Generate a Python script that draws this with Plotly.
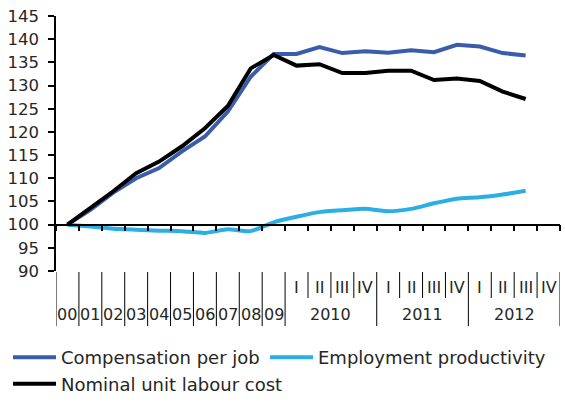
import plotly.graph_objects as go

categories = ["00", "01", "02", "03", "04", "05", "06", "07", "08", "09",
              "2010 I", "2010 II", "2010 III", "2010 IV",
              "2011 I", "2011 II", "2011 III", "2011 IV",
              "2012 I", "2012 II", "2012 III", "2012 IV"]
year_labels = ["00", "01", "02", "03", "04", "05", "06", "07", "08", "09"]
quarter_labels = ["I", "II", "III", "IV"] * 3
group_years = ["2010", "2011", "2012"]

compensation = [100, 103.2, 106.9, 110.0, 112.2, 115.8, 119.0, 124.4, 131.9, 136.8,
                136.8, 138.3, 137.0, 137.4, 137.1, 137.6, 137.2, 138.8, 138.4, 137.0, 136.5]
productivity = [100, 99.6, 99.1, 98.9, 98.7, 98.6, 98.2, 99.0, 98.6, 100.5,
                101.7, 102.7, 103.1, 103.4, 102.9, 103.4, 104.6, 105.6, 105.9, 106.5, 107.3]
nulc = [100, 103.6, 107.2, 111.1, 113.6, 116.9, 120.8, 125.6, 133.7, 136.6,
        134.3, 134.6, 132.7, 132.7, 133.2, 133.2, 131.2, 131.5, 131.0, 128.7, 127.1]

FONT = "DejaVu Sans"
TXT = "#262626"

fig = go.Figure()
fig.add_trace(go.Scatter(x=categories[:len(compensation)], y=compensation,
                         mode="lines", name="Compensation per job", legend="legend",
                         line=dict(color="#3B5CAA", width=4)))
fig.add_trace(go.Scatter(x=categories[:len(productivity)], y=productivity,
                         mode="lines", name="Employment productivity", legend="legend2",
                         line=dict(color="#2AAEE3", width=4, shape="spline", smoothing=0.5)))
fig.add_trace(go.Scatter(x=categories[:len(nulc)], y=nulc,
                         mode="lines", name="Nominal unit labour cost", legend="legend",
                         line=dict(color="#000000", width=4)))

n = len(categories)
shapes = []
annotations = []
full_bottom = -0.216
short_bottom = -0.106
top = -0.004
lab_font = dict(family=FONT, size=16, color=TXT)
for i, lab in enumerate(year_labels):
    annotations.append(dict(x=i, y=-0.169, xref="x", yref="paper", text=lab, yanchor="middle",
                            showarrow=False, font=lab_font))
full_bounds = [i - 0.5 for i in range(len(year_labels) + 1)] + [13.5, 17.5, 21.5]
short_bounds = [10.5, 11.5, 12.5, 14.5, 15.5, 16.5, 18.5, 19.5, 20.5]
for b in full_bounds:
    shapes.append(dict(type="line", xref="x", yref="paper", x0=b, x1=b, y0=top, y1=full_bottom,
                       line=dict(color="#000000", width=1)))
for b in short_bounds:
    shapes.append(dict(type="line", xref="x", yref="paper", x0=b, x1=b, y0=top, y1=short_bottom,
                       line=dict(color="#000000", width=1)))
for j, q in enumerate(quarter_labels):
    annotations.append(dict(x=10 + j, y=-0.063, xref="x", yref="paper", text=q, yanchor="middle",
                            showarrow=False, font=lab_font))
for k, yr in enumerate(group_years):
    annotations.append(dict(x=11.5 + 4 * k, y=-0.169, xref="x", yref="paper", text=yr,
                            yanchor="middle", showarrow=False, font=lab_font))

legend_common = dict(orientation="v", yref="paper", y=-0.267, xanchor="left", yanchor="top",
                     itemwidth=43, font=dict(family=FONT, size=18, color=TXT),
                     bgcolor="rgba(0,0,0,0)", tracegroupgap=0)

fig.update_layout(
    width=565, height=402,
    margin=dict(l=56, r=5, t=16, b=131, autoexpand=False),
    paper_bgcolor="white", plot_bgcolor="white",
    font=dict(family=FONT, size=16, color=TXT),
    xaxis=dict(type="category", categoryarray=categories, range=[-0.5, n - 0.5],
               anchor="free", position=10 / 55, showline=True, linecolor="#000000", linewidth=1.5,
               ticks="outside", tickson="boundaries", ticklen=6, tickcolor="#000000", tickwidth=1.5,
               showticklabels=False, showgrid=False, zeroline=False, automargin=False),
    yaxis=dict(range=[90, 145], tickvals=list(range(90, 146, 5)), showline=True,
               linecolor="#000000", linewidth=1.5, ticks="outside", ticklen=6,
               tickcolor="#000000", tickwidth=1.5, showgrid=False, zeroline=False,
               automargin=False, ticklabelstandoff=6,
               tickfont=dict(family=FONT, size=16.5, color=TXT)),
    showlegend=True,
    legend=dict(xref="container", x=8 / 565, **legend_common),
    legend2=dict(xref="container", x=265 / 565, **legend_common),
    shapes=shapes, annotations=annotations,
)

fig.write_html("out.html", config={"displayModeBar": False},
               post_script="document.body.style.margin='0px';")
